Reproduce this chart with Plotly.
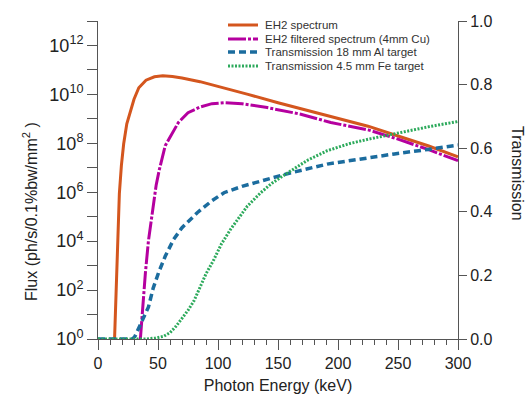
import plotly.graph_objects as go

# ---------------- data ----------------
eh2_energy = [13.8, 14.5, 15.0, 16.0, 17.8, 19.5, 21.4, 24, 27, 30, 34, 40, 47, 54, 62, 70, 85,
              100, 125, 150, 175, 200, 225, 250, 275, 300]
eh2_log10_flux = [0.0, 1.0, 1.9, 3.6, 5.94, 7.1, 7.98, 8.8, 9.32, 9.8, 10.27, 10.58, 10.72, 10.76,
                  10.73, 10.67, 10.52, 10.33, 10.0, 9.66, 9.34, 9.0, 8.7, 8.3, 7.9, 7.45]

filt_energy = [35.3, 37.5, 39.5, 42, 44.5, 48.5, 51, 56, 60, 67, 75, 85, 95, 105, 120, 141, 169,
               194, 225, 250, 275, 300]
filt_log10_flux = [0.0, 1.5, 2.7, 4.0, 4.9, 6.3, 6.9, 7.9, 8.25, 8.85, 9.25, 9.48, 9.62, 9.66,
                   9.62, 9.46, 9.19, 8.85, 8.55, 8.17, 7.75, 7.29]

al_energy = [0, 29, 31, 34, 38, 42, 46, 50.6, 56, 63, 70, 82.7, 95, 105, 120, 135.6, 160, 191,
             220, 247, 275, 300]
al_trans = [0, 0, 0.01, 0.035, 0.07, 0.10, 0.16, 0.21, 0.26, 0.313, 0.35, 0.397, 0.435, 0.46,
            0.48, 0.497, 0.522, 0.55, 0.567, 0.582, 0.596, 0.61]

fe_energy = [0, 40, 48, 55, 60, 65, 70, 75, 80, 85, 90, 96.6, 103, 110.5, 117, 124.5, 135.6, 145,
             157, 175, 191, 210, 227.5, 250, 275, 300]
fe_trans = [0, 0, 0.003, 0.009, 0.02, 0.04, 0.065, 0.09, 0.12, 0.165, 0.205, 0.25, 0.30, 0.345,
            0.38, 0.418, 0.46, 0.49, 0.52, 0.563, 0.592, 0.615, 0.63, 0.648, 0.667, 0.684]

series_names = ["EH2 spectrum", "EH2 filtered spectrum (4mm Cu)",
                "Transmission 18 mm Al target", "Transmission 4.5 mm Fe target"]
left_major_exponents = [0, 2, 4, 6, 8, 10, 12]
left_minor_exponents = [1, 3, 5, 7, 9, 11, 13]
right_ticks = [0.0, 0.2, 0.4, 0.6, 0.8, 1.0]
x_ticks = [0, 50, 100, 150, 200, 250, 300]

# ---------------- styling ----------------
C_OR = "#D4561E"
C_MG = "#B5009F"
C_BL = "#1B6C9E"
C_GR = "#2DAA5C"
AX = "#555555"
TXT = "#222222"
FONT = "Liberation Sans, Arial, sans-serif"

styles = [
    dict(color=C_OR, width=3, dash="solid"),
    dict(color=C_MG, width=3, dash="18px,2px,3px,2px"),
    dict(color=C_BL, width=3.5, dash="7px,4px"),
    dict(color=C_GR, width=3, dash="2px,1.5px"),
]

fig = go.Figure()
fig.add_trace(go.Scatter(x=eh2_energy, y=[10 ** v for v in eh2_log10_flux], mode="lines",
                         line=styles[0], name=series_names[0], yaxis="y"))
fig.add_trace(go.Scatter(x=filt_energy, y=[10 ** v for v in filt_log10_flux], mode="lines",
                         line=styles[1], name=series_names[1], yaxis="y"))
fig.add_trace(go.Scatter(x=al_energy, y=al_trans, mode="lines", line=styles[2],
                         name=series_names[2], yaxis="y2"))
fig.add_trace(go.Scatter(x=fe_energy, y=fe_trans, mode="lines", line=styles[3],
                         name=series_names[3], yaxis="y2"))

ML, MR, MT, MB = 98, 73, 21, 55
W, H = 531, 394
PW = W - ML - MR
PH = H - MT - MB


def px2paper(px, py):
    return (px - ML) / PW, (H - MB - py) / PH


fig.update_layout(
    width=W, height=H,
    margin=dict(l=ML, r=MR, t=MT, b=MB, pad=0, autoexpand=False),
    paper_bgcolor="white", plot_bgcolor="white",
    showlegend=False,
    font=dict(family=FONT, color=TXT, size=15),
    xaxis=dict(
        range=[0, 300], tickvals=x_ticks, ticks="outside", ticklen=10, tickwidth=1,
        tickcolor=AX, showline=True, linecolor=AX, linewidth=1, showgrid=False,
        zeroline=False, tickfont=dict(size=16), automargin=False,
        minor=dict(dtick=10, ticks="outside", ticklen=5, tickcolor=AX, showgrid=False),
        title=dict(text="Photon Energy (keV)", font=dict(size=16), standoff=8),
    ),
    yaxis=dict(
        type="log", range=[0, 13], tickmode="array",
        tickvals=[10 ** e for e in left_major_exponents],
        ticktext=["10<sup>%d</sup>" % e for e in left_major_exponents],
        ticks="outside", ticklen=10, tickcolor=AX, showline=True, linecolor=AX,
        linewidth=1, showgrid=False, zeroline=False, tickfont=dict(size=18),
        automargin=False,
        minor=dict(tickmode="array", tickvals=[10 ** e for e in left_minor_exponents],
                   ticks="outside", ticklen=10, tickcolor=AX, showgrid=False),
    ),
    yaxis2=dict(
        overlaying="y", side="right", anchor="x", range=[0, 1], tickvals=right_ticks,
        tickformat=".1f", ticks="outside", ticklen=8, tickcolor=AX, showline=True,
        linecolor=AX, linewidth=1, showgrid=False, zeroline=False,
        tickfont=dict(size=16), automargin=False,
    ),
)

ann = []
lx, ly = px2paper(30, 212)
ann.append(dict(x=lx, y=ly, xref="paper", yref="paper", xanchor="center", yanchor="middle",
                text="Flux (ph/s/0.1%bw/mm<sup>2</sup> )",
                textangle=-90, showarrow=False, font=dict(size=16, color=TXT)))
rx, ry = px2paper(518, 173)
ann.append(dict(x=rx, y=ry, xref="paper", yref="paper", xanchor="center", yanchor="middle",
                text="Transmission",
                textangle=90, showarrow=False, font=dict(size=16, color=TXT)))

# manual compact legend
shapes = []
leg_y = [25, 39, 52, 66]
for name, st, yy in zip(series_names, styles, leg_y):
    x0, y0 = px2paper(228, yy)
    x1, _ = px2paper(258, yy)
    shapes.append(dict(type="line", xref="paper", yref="paper", x0=x0, x1=x1, y0=y0, y1=y0,
                       line=dict(color=st["color"], width=st["width"], dash=st["dash"])))
    tx, _ = px2paper(263, yy)
    ann.append(dict(x=tx, y=y0, xref="paper", yref="paper", text=name, xanchor="left",
                    yanchor="middle", showarrow=False, font=dict(size=11.5, color="#333333")))

fig.update_layout(annotations=ann, shapes=shapes)
fig.write_html("out.html")
